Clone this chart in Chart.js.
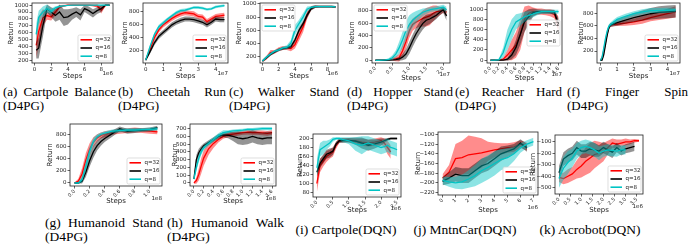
<!DOCTYPE html>
<html>
<head>
<meta charset="utf-8">
<title>Return vs Steps for q=32 / q=16 / q=8</title>
<script src="https://cdn.jsdelivr.net/npm/chart.js"></script>
<style>
  body { margin: 0; background: #fff; }
  #fig { position: relative; width: 690px; height: 245px; overflow: hidden; }
  .cap { position: absolute; font-family: "Liberation Serif", "Times New Roman", serif; font-size: 13px; line-height: 14px; color: #000; text-align: justify; text-align-last: left; }
  .cap1 { position: absolute; font-family: "Liberation Serif", "Times New Roman", serif; font-size: 13.5px; line-height: 14px; color: #000; text-align: center; white-space: nowrap; width: 130px; }
</style>
</head>
<body>
<div id="fig">
  <div class="cap" style="left:3px;top:85px;width:113px">(a) Cartpole Balance (D4PG)</div>
  <div class="cap" style="left:118px;top:85px;width:108px">(b) Cheetah Run (D4PG)</div>
  <div class="cap" style="left:229px;top:85px;width:110px">(c) Walker Stand (D4PG)</div>
  <div class="cap" style="left:347px;top:85px;width:106px">(d) Hopper Stand (D4PG)</div>
  <div class="cap" style="left:455px;top:85px;width:107px">(e) Reacher Hard (D4PG)</div>
  <div class="cap" style="left:567px;top:85px;width:121px">(f) Finger Spin (D4PG)</div>
  <div class="cap" style="left:45px;top:216px;width:118px;font-size:13.5px">(g) Humanoid Stand (D4PG)</div>
  <div class="cap" style="left:167px;top:216px;width:117px;font-size:13.5px">(h) Humanoid Walk (D4PG)</div>
  <div class="cap1" style="left:281px;top:223px">(i) Cartpole(DQN)</div>
  <div class="cap1" style="left:400px;top:223px">(j) MntnCar(DQN)</div>
  <div class="cap1" style="left:525px;top:223px">(k) Acrobot(DQN)</div>
</div>

<script>
// series order everywhere: q=32 (red), q=16 (black), q=8 (cyan); *Sd = half width of the shaded band

// (a) Cartpole Balance, steps in 1e6
const cartX = [0.2, 0.5, 1, 1.5, 2, 2.5, 3, 3.5, 4, 4.5, 5, 5.5, 6, 6.5, 7, 7.5, 8, 8.5, 9];
const cartQ32 = [420, 620, 820, 850, 830, 900, 975, 990, 1000, 1000, 1000, 1000, 1000, 1000, 995, 990, 930, 995, 1000];
const cartQ32Sd = [180, 220, 120, 60, 50, 50, 25, 15, 10, 10, 10, 10, 10, 10, 15, 25, 50, 10, 5];
const cartQ16 = [350, 380, 700, 950, 900, 850, 900, 820, 830, 870, 900, 860, 950, 920, 880, 920, 950, 1000, 1000];
const cartQ16Sd = [120, 150, 160, 60, 70, 90, 110, 120, 110, 80, 70, 80, 50, 60, 60, 50, 50, 10, 5];
const cartQ8 = [580, 820, 900, 950, 910, 960, 980, 990, 995, 1000, 1000, 1000, 1000, 1000, 1000, 1000, 1000, 1000, 1000];
const cartQ8Sd = [150, 100, 80, 60, 40, 25, 15, 10, 8, 5, 5, 5, 5, 5, 5, 5, 5, 5, 5];
const cartXTicks = [0, 2, 4, 6, 8];
const cartYTicks = [200, 300, 400, 500, 600, 700, 800, 900, 1000];

// (b) Cheetah Run, steps in 1e7
const cheetahX = [0, 0.25, 0.5, 0.75, 1, 1.25, 1.5, 1.75, 2, 2.25, 2.5, 2.75, 3, 3.25, 3.5, 3.75, 4, 4.25, 4.5];
const cheetahQ32 = [50, 220, 400, 520, 600, 650, 700, 740, 770, 790, 780, 770, 730, 720, 650, 690, 730, 740, 750];
const cheetahQ32Sd = [20, 30, 40, 40, 40, 40, 40, 40, 40, 40, 40, 40, 40, 40, 40, 40, 40, 40, 40];
const cheetahQ16 = [50, 180, 320, 420, 480, 540, 600, 640, 670, 690, 690, 680, 660, 640, 600, 640, 690, 680, 680];
const cheetahQ16Sd = [20, 30, 40, 40, 40, 40, 40, 40, 40, 40, 40, 40, 40, 40, 40, 40, 40, 40, 40];
const cheetahQ8 = [50, 260, 450, 570, 630, 690, 740, 790, 820, 830, 850, 870, 870, 860, 840, 850, 880, 890, 900];
const cheetahQ8Sd = [20, 30, 30, 30, 30, 25, 25, 25, 25, 25, 20, 20, 20, 20, 20, 20, 20, 20, 20];
const cheetahXTicks = [0, 1, 2, 3, 4];
const cheetahYTicks = [200, 400, 600, 800];

// (c) Walker Stand, steps in 1e6
const walkerX = [0, 0.5, 1, 1.5, 2, 2.5, 3, 3.5, 4, 4.5, 5, 5.5, 6, 6.5, 7, 7.5, 8, 8.5, 9];
const walkerQ32 = [130, 180, 260, 270, 310, 330, 330, 320, 380, 520, 650, 830, 940, 960, 960, 960, 960, 960, 950];
const walkerQ32Sd = [20, 30, 40, 30, 30, 30, 30, 40, 60, 80, 80, 60, 30, 20, 15, 15, 15, 15, 15];
const walkerQ16 = [130, 180, 230, 270, 300, 320, 330, 350, 450, 600, 700, 830, 930, 960, 960, 960, 960, 960, 955];
const walkerQ16Sd = [20, 20, 20, 20, 20, 20, 20, 30, 40, 40, 40, 40, 30, 20, 15, 15, 15, 15, 15];
const walkerQ8 = [130, 190, 240, 280, 300, 330, 340, 400, 600, 700, 800, 920, 950, 960, 960, 960, 960, 960, 955];
const walkerQ8Sd = [20, 20, 20, 20, 20, 20, 30, 50, 80, 60, 60, 40, 20, 15, 15, 15, 15, 15, 15];
const walkerXTicks = [0, 2, 4, 6, 8];
const walkerYTicks = [200, 400, 600, 800, 1000];

// (d) Hopper Stand, steps in 1e7
const hopperX = [0, 0.1, 0.2, 0.3, 0.4, 0.5, 0.6, 0.7, 0.8, 0.9, 1.0, 1.1, 1.2, 1.3, 1.4, 1.5, 1.6, 1.7, 1.8, 1.9, 2.0, 2.1];
const hopperQ32 = [0, 0, 0, 2, 5, 15, 25, 40, 150, 300, 480, 580, 620, 650, 680, 700, 720, 760, 790, 800, 820, 780];
const hopperQ32Sd = [5, 5, 5, 10, 15, 25, 40, 60, 100, 120, 120, 100, 100, 110, 130, 150, 150, 130, 100, 70, 50, 60];
const hopperQ16 = [0, 0, 0, 0, 2, 5, 10, 20, 50, 100, 200, 320, 430, 520, 600, 650, 670, 700, 730, 780, 820, 720];
const hopperQ16Sd = [5, 5, 5, 5, 5, 10, 15, 30, 50, 80, 100, 100, 100, 100, 100, 90, 80, 70, 60, 50, 50, 80];
const hopperQ8 = [0, 0, 2, 5, 15, 40, 100, 200, 330, 480, 580, 650, 700, 740, 780, 800, 820, 830, 840, 850, 860, 820];
const hopperQ8Sd = [5, 5, 5, 10, 20, 40, 60, 100, 130, 150, 150, 120, 100, 80, 60, 50, 40, 40, 40, 40, 40, 50];
const hopperXTicks = [0, 0.5, 1.0, 1.5, 2.0];
const hopperYTicks = [0, 200, 400, 600, 800];

// (e) Reacher Hard, steps in 1e7
const reacherX = [0, 0.1, 0.2, 0.3, 0.4, 0.5, 0.6, 0.7, 0.8, 0.9, 1.0, 1.1, 1.2, 1.3, 1.4, 1.5, 1.6];
const reacherQ32 = [0, 0, 0, 20, 100, 200, 300, 500, 800, 920, 950, 950, 950, 940, 930, 900, 700];
const reacherQ32Sd = [5, 5, 5, 30, 100, 200, 250, 300, 250, 150, 80, 60, 60, 60, 70, 80, 150];
const reacherQ16 = [0, 0, 0, 0, 20, 100, 250, 500, 750, 850, 930, 950, 950, 950, 950, 940, 700];
const reacherQ16Sd = [5, 5, 5, 5, 30, 80, 150, 200, 200, 150, 80, 50, 40, 40, 40, 50, 120];
const reacherQ8 = [0, 0, 10, 150, 400, 600, 750, 800, 850, 880, 900, 930, 950, 950, 950, 950, 950];
const reacherQ8Sd = [5, 5, 20, 100, 200, 200, 150, 120, 100, 80, 60, 50, 40, 40, 40, 40, 40];
const reacherXTicks = [0, 0.2, 0.4, 0.6, 0.8, 1.0, 1.2, 1.4, 1.6];
const reacherYTicks = [0, 200, 400, 600, 800, 1000];

// (f) Finger Spin, steps in 1e7
const fingerX = [0, 0.1, 0.2, 0.3, 0.4, 0.5, 0.6, 0.8, 1.0, 1.5, 2.0, 2.5, 3.0, 3.5, 4.0, 4.5];
const fingerQ32 = [50, 90, 200, 340, 470, 570, 610, 620, 625, 640, 660, 690, 730, 760, 790, 820];
const fingerQ32Sd = [10, 20, 30, 30, 30, 30, 30, 30, 30, 40, 50, 60, 60, 70, 80, 90];
const fingerQ16 = [50, 55, 140, 290, 440, 560, 610, 630, 650, 690, 730, 760, 790, 810, 820, 830];
const fingerQ16Sd = [10, 10, 30, 30, 30, 30, 30, 40, 50, 60, 70, 80, 90, 100, 100, 100];
const fingerQ8 = [50, 100, 240, 390, 510, 590, 620, 660, 700, 750, 790, 820, 840, 840, 845, 850];
const fingerQ8Sd = [10, 20, 30, 30, 30, 30, 30, 40, 40, 40, 40, 40, 40, 40, 40, 40];
const fingerXTicks = [0, 1, 2, 3, 4];
const fingerYTicks = [200, 400, 600, 800];

// (g) Humanoid Stand, steps in 1e8
const standX = [0, 0.05, 0.1, 0.15, 0.2, 0.25, 0.3, 0.35, 0.4, 0.5, 0.6, 0.7, 0.8, 0.9, 1.0, 1.1];
const standQ32 = [0, 30, 150, 380, 560, 680, 750, 790, 810, 840, 860, 870, 880, 870, 860, 850];
const standQ32Sd = [10, 40, 100, 120, 100, 80, 60, 50, 50, 40, 40, 40, 40, 40, 40, 40];
const standQ16 = [0, 0, 30, 180, 370, 520, 620, 690, 740, 820, 900, 860, 870, 880, 890, 920];
const standQ16Sd = [10, 10, 40, 80, 100, 100, 80, 70, 60, 50, 40, 40, 40, 30, 30, 30];
const standQ8 = [0, 0, 60, 280, 520, 690, 770, 810, 830, 860, 870, 880, 880, 885, 890, 900];
const standQ8Sd = [10, 10, 50, 80, 80, 60, 40, 30, 30, 30, 30, 30, 30, 30, 30, 30];
const standXTicks = [0, 0.2, 0.4, 0.6, 0.8, 1.0];
const standYTicks = [0, 200, 400, 600, 800];

// (h) Humanoid Walk, steps in 1e8
const walkX = [0, 0.05, 0.1, 0.15, 0.2, 0.3, 0.4, 0.5, 0.6, 0.7, 0.8, 0.9, 1.0, 1.1, 1.2, 1.3, 1.4, 1.5, 1.6];
const walkQ32 = [0, 30, 110, 220, 320, 440, 510, 560, 600, 620, 630, 640, 650, 655, 650, 650, 645, 640, 650];
const walkQ32Sd = [10, 40, 80, 100, 100, 80, 60, 40, 30, 30, 30, 30, 30, 30, 30, 30, 30, 30, 30];
const walkQ16 = [50, 300, 390, 440, 480, 520, 560, 600, 620, 615, 600, 580, 570, 580, 600, 580, 570, 580, 580];
const walkQ16Sd = [20, 60, 50, 40, 30, 30, 30, 30, 30, 40, 60, 80, 80, 80, 80, 80, 80, 80, 80];
const walkQ8 = [50, 200, 320, 400, 450, 510, 560, 610, 650, 660, 670, 675, 680, 690, 690, 695, 700, 700, 700];
const walkQ8Sd = [20, 50, 50, 40, 30, 30, 30, 30, 30, 20, 20, 20, 20, 20, 20, 20, 20, 20, 20];
const walkXTicks = [0, 0.2, 0.4, 0.6, 0.8, 1.0, 1.2, 1.4, 1.6];
const walkYTicks = [0, 100, 200, 300, 400, 500, 600, 700];

// (i) Cartpole (DQN), steps in 1e6
const cdqnX = [0, 0.1, 0.2, 0.3, 0.4, 0.5, 0.6, 0.7, 0.8, 1.0, 1.2, 1.4, 1.6, 1.8, 2.0, 2.1, 2.2, 2.3, 2.4, 2.5];
const cdqnQ32 = [100, 140, 150, 160, 165, 170, 185, 195, 198, 196, 195, 192, 190, 192, 195, 190, 180, 170, null, null];
const cdqnQ32Sd = [20, 15, 12, 12, 10, 10, 8, 5, 3, 5, 5, 8, 8, 8, 8, 10, 15, 15, null, null];
const cdqnQ16 = [125, 145, 155, 165, 168, 172, 188, 195, 195, 196, 194, 190, 185, 188, 192, 195, 198, 200, 200, 200];
const cdqnQ16Sd = [10, 10, 10, 10, 10, 8, 5, 5, 5, 5, 8, 12, 12, 10, 8, 5, 3, 2, 2, 2];
const cdqnQ8 = [135, 175, 180, 185, 190, 198, 200, 200, 198, 195, 188, 185, 190, 185, 180, 182, 185, 180, 178, 175];
const cdqnQ8Sd = [20, 15, 15, 10, 8, 5, 3, 3, 5, 8, 15, 20, 15, 15, 15, 15, 15, 15, 15, 15];
const cdqnXTicks = [0, 0.5, 1.0, 1.5, 2.0, 2.5];
const cdqnYTicks = [80, 100, 120, 140, 160, 180, 200];

// (j) MountainCar (DQN), steps in 1e6
const carX = [0, 0.5, 1, 1.5, 2, 2.5, 3, 3.5, 4, 4.5, 5, 5.5, 6, 6.5, 7];
const carQ32 = [-190, -178, -150, -148, -142, -140, -138, -135, -132, -130, -128, -126, -120, -125, null];
const carQ32Sd = [8, 15, 30, 35, 40, 35, 30, 20, 15, 12, 10, 10, 8, 8, null];
const carQ16 = [-197, -190, -182, -185, -185, -175, -165, -160, -150, -140, -135, -130, -118, -128, null];
const carQ16Sd = [8, 12, 15, 15, 15, 15, 15, 15, 15, 15, 12, 10, 8, 8, null];
const carQ8 = [-195, -198, -200, -198, -192, -185, -175, -168, -160, -152, -148, -140, -128, -120, -115];
const carQ8Sd = [8, 10, 12, 15, 18, 22, 25, 25, 25, 22, 20, 15, 10, 8, 8];
const carXTicks = [0, 1, 2, 3, 4, 5, 6, 7];
const carYTicks = [-220, -200, -180, -160, -140, -120, -100];

// (k) Acrobot (DQN), steps in 1e6
const acroX = [0, 0.2, 0.4, 0.6, 0.8, 1.0, 1.2, 1.4, 1.6, 1.8, 2.0, 2.2, 2.4, 2.6, 2.8, 3.0, 3.2, 3.4, 3.6];
const acroQ32 = [-410, -420, -400, -380, -340, -310, -270, -240, -210, -200, -190, -150, -110, -120, -110, -100, -100, -90, -90];
const acroQ32Sd = [40, 50, 60, 60, 80, 100, 120, 130, 120, 100, 80, 60, 40, 40, 30, 30, 20, 15, 10];
const acroQ16 = [-370, -250, -220, -200, -150, -180, -180, -160, -170, -180, -150, -170, -190, -150, -180, -160, -150, -140, null];
const acroQ16Sd = [60, 60, 60, 60, 60, 60, 60, 60, 60, 50, 50, 50, 50, 40, 40, 40, 40, 40, null];
const acroQ8 = [-420, -330, -280, -240, -180, -150, -140, -150, -170, -200, -180, -170, -175, -180, -170, -170, null, null, null];
const acroQ8Sd = [80, 100, 100, 80, 70, 60, 60, 60, 60, 60, 50, 50, 50, 50, 40, 40, null, null, null];
const acroXTicks = [0, 0.5, 1.0, 1.5, 2.0, 2.5, 3.0, 3.5];
const acroYTicks = [-500, -400, -300, -200, -100];

const seriesNames = ['q=32', 'q=16', 'q=8'];
const lineColors = ['rgb(255,0,0)', 'rgb(0,0,0)', 'rgb(0,196,196)'];
const bandColors = ['rgba(255,0,0,0.45)', 'rgba(0,0,0,0.42)', 'rgba(0,196,196,0.45)'];

const FONT = 'DejaVu Sans';
const TXT = '#222';

function fmt(v, dec) {
  return v.toFixed(dec).replace('-', '\u2212');
}

// frame, legend inside the axes and the 1eN offset text
const decor = {
  id: 'decor',
  afterDatasetsDraw(chart, args, o) {
    const { ctx, chartArea: a } = chart;
    ctx.save();
    ctx.strokeStyle = '#222';
    ctx.lineWidth = 0.8;
    ctx.strokeRect(a.left, a.top, a.right - a.left, a.bottom - a.top);

    const w = 33, h = 26;
    let x, y;
    if (o.pos === 'ul') { x = a.left + 2; y = a.top + 2; }
    else if (o.pos === 'cr') { x = a.right - w - 2; y = (a.top + a.bottom) / 2 - h / 2; }
    else { x = a.right - w - 2; y = a.bottom - h - 2; }
    ctx.fillStyle = 'rgba(255,255,255,0.8)';
    ctx.strokeStyle = '#d0d0d0';
    ctx.lineWidth = 0.7;
    ctx.beginPath();
    ctx.roundRect(x, y, w, h, 1.5);
    ctx.fill();
    ctx.stroke();
    ctx.font = '5.5px "' + FONT + '"';
    ctx.textBaseline = 'middle';
    ctx.textAlign = 'left';
    seriesNames.forEach((name, i) => {
      const yy = y + 4.8 + i * 8.2;
      ctx.strokeStyle = lineColors[i];
      ctx.lineWidth = 1.6;
      ctx.beginPath();
      ctx.moveTo(x + 2.5, yy);
      ctx.lineTo(x + 14, yy);
      ctx.stroke();
      ctx.fillStyle = TXT;
      ctx.fillText(name, x + 17.5, yy);
    });

    ctx.font = '5.5px "' + FONT + '"';
    ctx.textAlign = 'right';
    ctx.textBaseline = 'middle';
    ctx.fillStyle = TXT;
    ctx.fillText(o.exp, a.right, a.bottom + o.expDy);
    ctx.restore();
  }
};

function makePanel(p) {
  const PT = 6, PR = 8;
  const left = Math.round(p.rx - 4.2);
  const top = p.box.t - PT;
  const W = p.box.r - left + PR;
  const H = Math.round(p.sy + 4.2) - top;
  const yw = p.box.l - left;
  const xh = H - PT - (p.box.b - p.box.t);

  const cv = document.createElement('canvas');
  cv.width = W;
  cv.height = H;
  cv.style.cssText = 'position:absolute;left:' + left + 'px;top:' + top + 'px;width:' + W + 'px;height:' + H + 'px';
  document.getElementById('fig').appendChild(cv);

  const datasets = [];
  p.series.forEach(([mean, sd], k) => {
    const ord = (3 - k) * 10;
    const up = p.x.map((x, i) => ({ x, y: mean[i] == null ? null : mean[i] + sd[i] }));
    const lo = p.x.map((x, i) => ({ x, y: mean[i] == null ? null : mean[i] - sd[i] }));
    datasets.push({ data: up, borderWidth: 0, pointRadius: 0, fill: '+1', backgroundColor: bandColors[k], order: ord + 2 });
    datasets.push({ data: lo, borderWidth: 0, pointRadius: 0, fill: false, order: ord + 2 });
    datasets.push({
      data: p.x.map((x, i) => ({ x, y: mean[i] })),
      borderColor: lineColors[k], borderWidth: 1.3, pointRadius: 0, fill: false, order: ord
    });
  });

  const xFont = { family: FONT, size: p.rot ? 5 : 5.5 };
  const yFont = { family: FONT, size: 5.5 };
  const titleFont = { family: FONT, size: 7 };
  new Chart(cv, {
    type: 'line',
    data: { datasets },
    plugins: [decor],
    options: {
      responsive: false,
      animation: false,
      events: [],
      layout: { padding: { left: 0, top: PT, right: PR, bottom: 0 } },
      elements: { line: { tension: 0 } },
      plugins: {
        legend: { display: false },
        tooltip: { enabled: false },
        decor: { pos: p.leg, exp: p.exp, expDy: p.expDy }
      },
      scales: {
        x: {
          type: 'linear', min: p.xr[0], max: p.xr[1],
          afterBuildTicks: s => { s.ticks = p.xt.map(v => ({ value: v })); },
          afterFit: s => { s.height = xh; },
          ticks: { callback: v => fmt(v, p.xdec), font: xFont, color: TXT, padding: p.rot ? 0 : 1, minRotation: p.rot, maxRotation: p.rot, autoSkip: false },
          grid: { drawOnChartArea: false, tickLength: 2.5, color: TXT, lineWidth: 0.7 },
          border: { display: false },
          title: { display: true, text: 'Steps', font: titleFont, color: TXT, padding: 0 }
        },
        y: {
          type: 'linear', min: p.yr[0], max: p.yr[1],
          afterBuildTicks: s => { s.ticks = p.yt.map(v => ({ value: v })); },
          afterFit: s => { s.width = yw; },
          ticks: { callback: v => fmt(v, 0), font: yFont, color: TXT, padding: 1, autoSkip: false },
          grid: { drawOnChartArea: false, tickLength: 2.5, color: TXT, lineWidth: 0.7 },
          border: { display: false },
          title: { display: true, text: 'Return', font: titleFont, color: TXT, padding: 0 }
        }
      }
    }
  });
}

makePanel({ box: { l: 32, t: 3, r: 113, b: 63 }, rx: 11, sy: 76, x: cartX,
  series: [[cartQ32, cartQ32Sd], [cartQ16, cartQ16Sd], [cartQ8, cartQ8Sd]],
  xr: [-0.3, 9.4], yr: [167, 1030], xt: cartXTicks, yt: cartYTicks, xdec: 0, rot: 0, exp: '1e6', expDy: 11, leg: 'lr' });

makePanel({ box: { l: 143, t: 3, r: 228, b: 63 }, rx: 125, sy: 76, x: cheetahX,
  series: [[cheetahQ32, cheetahQ32Sd], [cheetahQ16, cheetahQ16Sd], [cheetahQ8, cheetahQ8Sd]],
  xr: [-0.15, 4.7], yr: [5, 940], xt: cheetahXTicks, yt: cheetahYTicks, xdec: 0, rot: 0, exp: '1e7', expDy: 11, leg: 'lr' });

makePanel({ box: { l: 260, t: 3, r: 338, b: 63 }, rx: 239, sy: 76, x: walkerX,
  series: [[walkerQ32, walkerQ32Sd], [walkerQ16, walkerQ16Sd], [walkerQ8, walkerQ8Sd]],
  xr: [-0.3, 9.3], yr: [100, 1015], xt: walkerXTicks, yt: walkerYTicks, xdec: 0, rot: 0, exp: '1e6', expDy: 11, leg: 'ul' });

makePanel({ box: { l: 372, t: 3, r: 450, b: 63 }, rx: 352, sy: 78, x: hopperX,
  series: [[hopperQ32, hopperQ32Sd], [hopperQ16, hopperQ16Sd], [hopperQ8, hopperQ8Sd]],
  xr: [-0.1, 2.2], yr: [-45, 930], xt: hopperXTicks, yt: hopperYTicks, xdec: 1, rot: 45, exp: '1e7', expDy: 12, leg: 'ul' });

makePanel({ box: { l: 487, t: 3, r: 562, b: 63 }, rx: 467, sy: 78, x: reacherX,
  series: [[reacherQ32, reacherQ32Sd], [reacherQ16, reacherQ16Sd], [reacherQ8, reacherQ8Sd]],
  xr: [-0.08, 1.68], yr: [-55, 1120], xt: reacherXTicks, yt: reacherYTicks, xdec: 1, rot: 45, exp: '1e7', expDy: 12, leg: 'cr' });

makePanel({ box: { l: 597, t: 3, r: 680, b: 63 }, rx: 581, sy: 76, x: fingerX,
  series: [[fingerQ32, fingerQ32Sd], [fingerQ16, fingerQ16Sd], [fingerQ8, fingerQ8Sd]],
  xr: [-0.2, 4.75], yr: [10, 960], xt: fingerXTicks, yt: fingerYTicks, xdec: 0, rot: 0, exp: '1e7', expDy: 11, leg: 'lr' });

makePanel({ box: { l: 70, t: 124, r: 162, b: 186 }, rx: 50, sy: 201, x: standX,
  series: [[standQ32, standQ32Sd], [standQ16, standQ16Sd], [standQ8, standQ8Sd]],
  xr: [-0.06, 1.16], yr: [-50, 980], xt: standXTicks, yt: standYTicks, xdec: 1, rot: 45, exp: '1e8', expDy: 13, leg: 'lr' });

makePanel({ box: { l: 190, t: 124, r: 276, b: 186 }, rx: 175, sy: 201, x: walkX,
  series: [[walkQ32, walkQ32Sd], [walkQ16, walkQ16Sd], [walkQ8, walkQ8Sd]],
  xr: [-0.08, 1.68], yr: [-40, 760], xt: walkXTicks, yt: walkYTicks, xdec: 1, rot: 45, exp: '1e8', expDy: 13, leg: 'lr' });

makePanel({ box: { l: 313, t: 134, r: 401, b: 197 }, rx: 300, sy: 210, x: cdqnX,
  series: [[cdqnQ32, cdqnQ32Sd], [cdqnQ16, cdqnQ16Sd], [cdqnQ8, cdqnQ8Sd]],
  xr: [-0.12, 2.62], yr: [70, 210], xt: cdqnXTicks, yt: cdqnYTicks, xdec: 1, rot: 45, exp: '1e6', expDy: 12, leg: 'lr' });

makePanel({ box: { l: 438, t: 132, r: 538, b: 195 }, rx: 418, sy: 210, x: carX,
  series: [[carQ32, carQ32Sd], [carQ16, carQ16Sd], [carQ8, carQ8Sd]],
  xr: [-0.35, 7.35], yr: [-225, -95], xt: carXTicks, yt: carYTicks, xdec: 0, rot: 45, exp: '1e6', expDy: 13, leg: 'lr' });

makePanel({ box: { l: 555, t: 135, r: 643, b: 194 }, rx: 533, sy: 210, x: acroX,
  series: [[acroQ32, acroQ32Sd], [acroQ16, acroQ16Sd], [acroQ8, acroQ8Sd]],
  xr: [-0.18, 3.78], yr: [-555, -40], xt: acroXTicks, yt: acroYTicks, xdec: 1, rot: 45, exp: '1e6', expDy: 13, leg: 'lr' });
</script>
</body>
</html>
